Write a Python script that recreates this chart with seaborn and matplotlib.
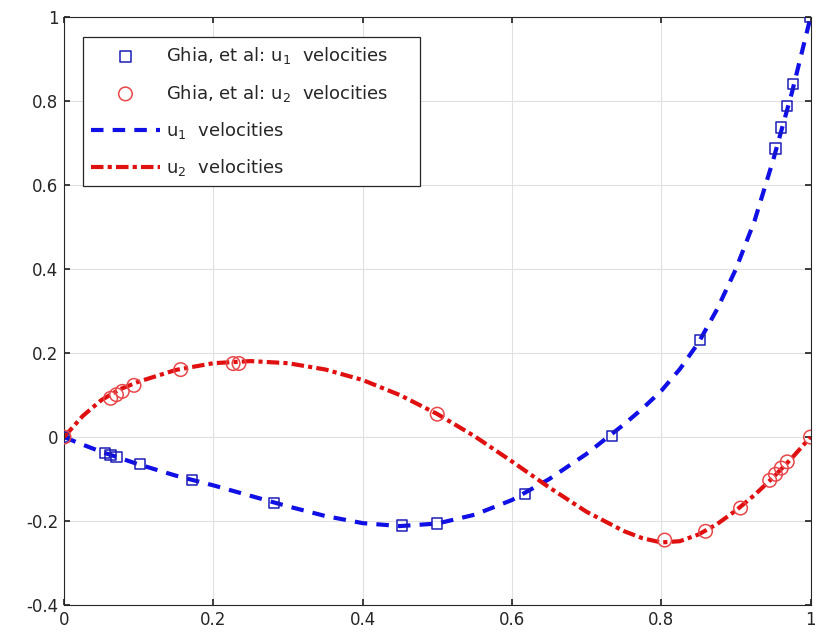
import numpy as np
import pandas as pd
import matplotlib
matplotlib.use("Agg")
import matplotlib.pyplot as plt
import seaborn as sns

# Ghia et al. reference data
ghia_y = [1.0000, 0.9766, 0.9688, 0.9609, 0.9531, 0.8516, 0.7344, 0.6172,
          0.5000, 0.4531, 0.2813, 0.1719, 0.1016, 0.0703, 0.0625, 0.0547, 0.0000]
ghia_u1 = [1.0, 0.84123, 0.78871, 0.73722, 0.68717, 0.23151, 0.00332, -0.13641,
           -0.20581, -0.21090, -0.15662, -0.10150, -0.06434, -0.04775, -0.04192, -0.03717, 0.0]
ghia_x = [1.0000, 0.9688, 0.9609, 0.9531, 0.9453, 0.9063, 0.8594, 0.8047,
          0.5000, 0.2344, 0.2266, 0.1563, 0.0938, 0.0781, 0.0703, 0.0625, 0.0000]
ghia_u2 = [0.0, -0.05906, -0.07391, -0.08864, -0.10313, -0.16914, -0.22445, -0.24533,
           0.05454, 0.17527, 0.17507, 0.16077, 0.12317, 0.10890, 0.10091, 0.09233, 0.0]

# Computed profiles
line_pos = [0.0, 0.025, 0.05, 0.075, 0.1, 0.15, 0.2, 0.25, 0.3, 0.35, 0.4, 0.45, 0.5, 0.55,
            0.6, 0.65, 0.7, 0.75, 0.775, 0.8, 0.825, 0.85, 0.875, 0.9, 0.925, 0.95, 0.975, 1.0]
line_u1 = [0.0, -0.018, -0.035, -0.05, -0.065, -0.092, -0.115, -0.14, -0.165, -0.188,
           -0.205, -0.212, -0.206, -0.185, -0.15, -0.1, -0.04, 0.03, 0.068, 0.11,
           0.162, 0.225, 0.305, 0.40, 0.515, 0.66, 0.82, 1.0]
line_u2 = [0.0, 0.05, 0.088, 0.114, 0.132, 0.160, 0.176, 0.181, 0.176, 0.161, 0.136,
           0.100, 0.055, 0.002, -0.058, -0.12, -0.178, -0.224, -0.241, -0.251, -0.248,
           -0.232, -0.207, -0.175, -0.138, -0.096, -0.05, 0.0]

sns.set_theme(style="whitegrid")
plt.rcParams['font.family'] = ['DejaVu Sans']

fig = plt.figure(figsize=(8.15, 6.40), dpi=100)
ax = fig.add_axes([0.0785, 0.0547, 0.916, 0.9183])

df_g1 = pd.DataFrame({"pos": ghia_y, "val": ghia_u1})
df_g2 = pd.DataFrame({"pos": ghia_x, "val": ghia_u2})
df_l = pd.DataFrame({"pos": line_pos, "u1": line_u1, "u2": line_u2})

sns.scatterplot(data=df_g1, x="pos", y="val", ax=ax, marker="s", s=55,
                facecolor="none", edgecolor="#1c1cb8", linewidth=1.1,
                label=r"Ghia, et al: u$_1$  velocities", zorder=3)
sns.scatterplot(data=df_g2, x="pos", y="val", ax=ax, marker="o", s=95,
                facecolor="none", edgecolor="#e8474a", linewidth=1.1,
                label=r"Ghia, et al: u$_2$  velocities", zorder=3)
sns.lineplot(data=df_l, x="pos", y="u1", ax=ax, color="#1010e6", linewidth=3,
             linestyle=(0, (3, 2.2)), label=r"u$_1$  velocities", zorder=2)
sns.lineplot(data=df_l, x="pos", y="u2", ax=ax, color="#e01010", linewidth=3,
             linestyle=(0, (3, 1, 1, 1)), label=r"u$_2$  velocities", zorder=2)

ax.set_xlim(0, 1)
ax.set_ylim(-0.4, 1)
ax.set_xticks([0, 0.2, 0.4, 0.6, 0.8, 1])
ax.set_xticklabels(["0", "0.2", "0.4", "0.6", "0.8", "1"])
ax.set_yticks([-0.4, -0.2, 0, 0.2, 0.4, 0.6, 0.8, 1])
ax.set_yticklabels(["-0.4", "-0.2", "0", "0.2", "0.4", "0.6", "0.8", "1"])
ax.set_xlabel("")
ax.set_ylabel("")
ax.grid(True, color="#e0e0e0", linewidth=0.8)
for sp in ax.spines.values():
    sp.set_color("#262626")
    sp.set_linewidth(0.8)
ax.tick_params(labelsize=12, colors="#262626", direction="in", length=4, pad=4)
ax.tick_params(axis="both", which="both", bottom=True, left=True, top=True, right=True)

leg = ax.legend(loc="upper left", bbox_to_anchor=(0.0255, 0.0, 0.452, 0.966),
                mode="expand", fontsize=13,
                frameon=True, fancybox=False, edgecolor="#262626", framealpha=1,
                borderpad=0.45, borderaxespad=0, handlelength=3.8, labelspacing=0.9,
                handletextpad=0.35)
leg.get_frame().set_linewidth(0.9)

fig.savefig("out.png", dpi=100)
